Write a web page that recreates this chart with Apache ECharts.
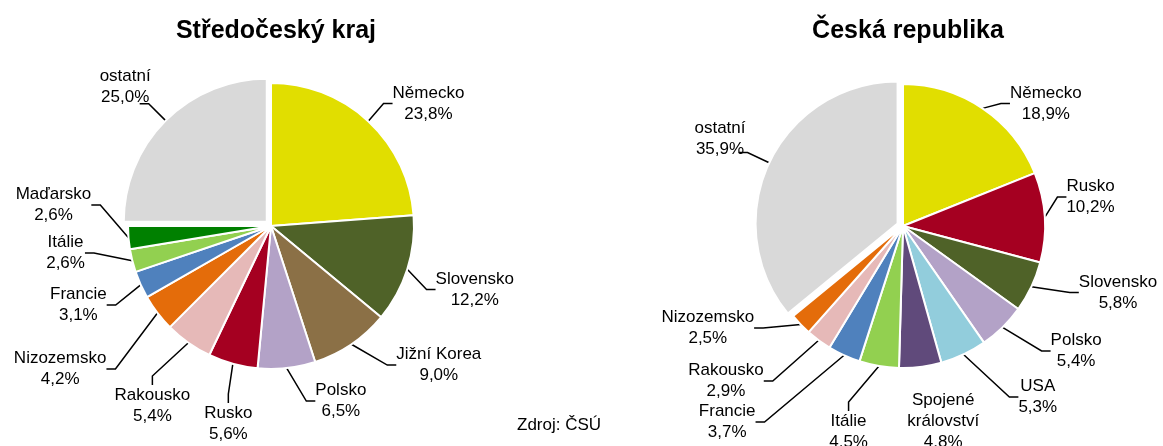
<!DOCTYPE html>
<html>
<head>
<meta charset="utf-8">
<script src="https://cdn.jsdelivr.net/npm/echarts@6/dist/echarts.min.js"></script>
<style>
  html, body { margin: 0; padding: 0; background: #fff; }
  #chart { width: 1163px; height: 446px; }
</style>
</head>
<body>
<div id="chart"></div>
<script>
// Středočeský kraj
const krajNames = ['Německo', 'Slovensko', 'Jižní Korea', 'Polsko', 'Rusko', 'Rakousko',
    'Nizozemsko', 'Francie', 'Itálie', 'Maďarsko', 'ostatní']
const krajValues = [23.8, 12.2, 9.0, 6.5, 5.6, 5.4, 4.2, 3.1, 2.6, 2.6, 25.0]

// Česká republika
const crNames = ['Německo', 'Rusko', 'Slovensko', 'Polsko', 'USA', 'Spojené\nkrálovství',
    'Itálie', 'Francie', 'Rakousko', 'Nizozemsko', 'ostatní']
const crValues = [18.9, 10.2, 5.8, 5.4, 5.3, 4.8, 4.5, 3.7, 2.9, 2.5, 35.9]

const colors = {
    'Německo': '#e1de00',
    'Slovensko': '#4f6228',
    'Jižní Korea': '#8b7046',
    'Polsko': '#b3a2c7',
    'Rusko': '#a50021',
    'Rakousko': '#e6b9b8',
    'Nizozemsko': '#e46c0a',
    'Francie': '#4f81bd',
    'Itálie': '#92d050',
    'Maďarsko': '#008000',
    'USA': '#92cddc',
    'Spojené\nkrálovství': '#604a7b',
    'ostatní': '#d9d9d9',
}

// label nudges (px) so the labels sit where the original puts them
const krajLabelShift = [[-6, 0], [-5, 13], [6, 1], [12, -7], [40, 0], [40, 26],
    [-14, 33], [3, 13], [-11, 5], [-5, 1], [16, -17]]
const crLabelShift = [[0, 15], [-9, 1], [5, 24], [-8, 36], [-12, 38], [-30, 8],
    [7, 8], [-31, 42], [9, 45], [17, 36], [12, -14]]

const FONT = 'Liberation Sans, Arial, sans-serif'
const fmt = (v) => v.toFixed(1).replace('.', ',') + '%'

function buildData(names, values) {
    return names.map((n, i) => ({
        name: n,
        value: values[i],
        selected: n === 'ostatní',
        itemStyle: { color: colors[n] },
        labelLine: { show: n !== 'Spojené\nkrálovství' },
    }))
}

function pieSeries(names, values, center, radius, shifts) {
    return {
        type: 'pie',
        center: center,
        radius: radius,
        startAngle: 90,
        clockwise: true,
        selectedMode: 'single',
        selectedOffset: 6,
        avoidLabelOverlap: true,
        itemStyle: { borderColor: '#fff', borderWidth: 2 },
        select: { itemStyle: { borderColor: '#fff', borderWidth: 2 } },
        label: {
            show: true,
            position: 'outside',
            color: '#000',
            fontFamily: FONT,
            fontSize: 17,
            lineHeight: 21,
            formatter: (p) => {
                const lines = p.name.split('\n').concat(fmt(p.value))
                return lines.map((l) => '{c|' + l + '}').join('\n')
            },
            rich: {
                c: { align: 'center', fontFamily: FONT, fontSize: 17, lineHeight: 21, color: '#000' },
            },
        },
        labelLine: {
            show: true,
            length: 24,
            length2: 9,
            lineStyle: { color: '#000', width: 1.5 },
        },
        labelLayout: (params) => {
            const s = shifts[params.dataIndex]
            const r = params.labelRect
            // the exploded slice keeps its label in place under x/y, so nudge it instead
            if (names[params.dataIndex] === 'ostatní') {
                return { dx: s[0], dy: s[1] }
            }
            return {
                x: r.x + s[0],
                y: r.y + s[1],
                align: 'left',
                verticalAlign: 'top',
            }
        },
        data: buildData(names, values),
    }
}

const chart = echarts.init(document.getElementById('chart'))
const option = {
    animation: false,
    backgroundColor: '#fff',
    title: [
        {
            text: 'Středočeský kraj',
            left: 271, top: 14, textAlign: 'center',
            textStyle: { fontFamily: FONT, fontSize: 25, fontWeight: 'bold', color: '#000' },
        },
        {
            text: 'Česká republika',
            left: 903, top: 14, textAlign: 'center',
            textStyle: { fontFamily: FONT, fontSize: 25, fontWeight: 'bold', color: '#000' },
        },
        {
            text: 'Zdroj: ČSÚ',
            left: 512, top: 412,
            textStyle: { fontFamily: FONT, fontSize: 17, fontWeight: 'normal', color: '#000' },
        },
    ],
    series: [
        pieSeries(krajNames, krajValues, [271, 226], 143, krajLabelShift),
        pieSeries(crNames, crValues, [903, 226], 142, crLabelShift),
    ],
}
chart.setOption(option)
</script>
</body>
</html>
